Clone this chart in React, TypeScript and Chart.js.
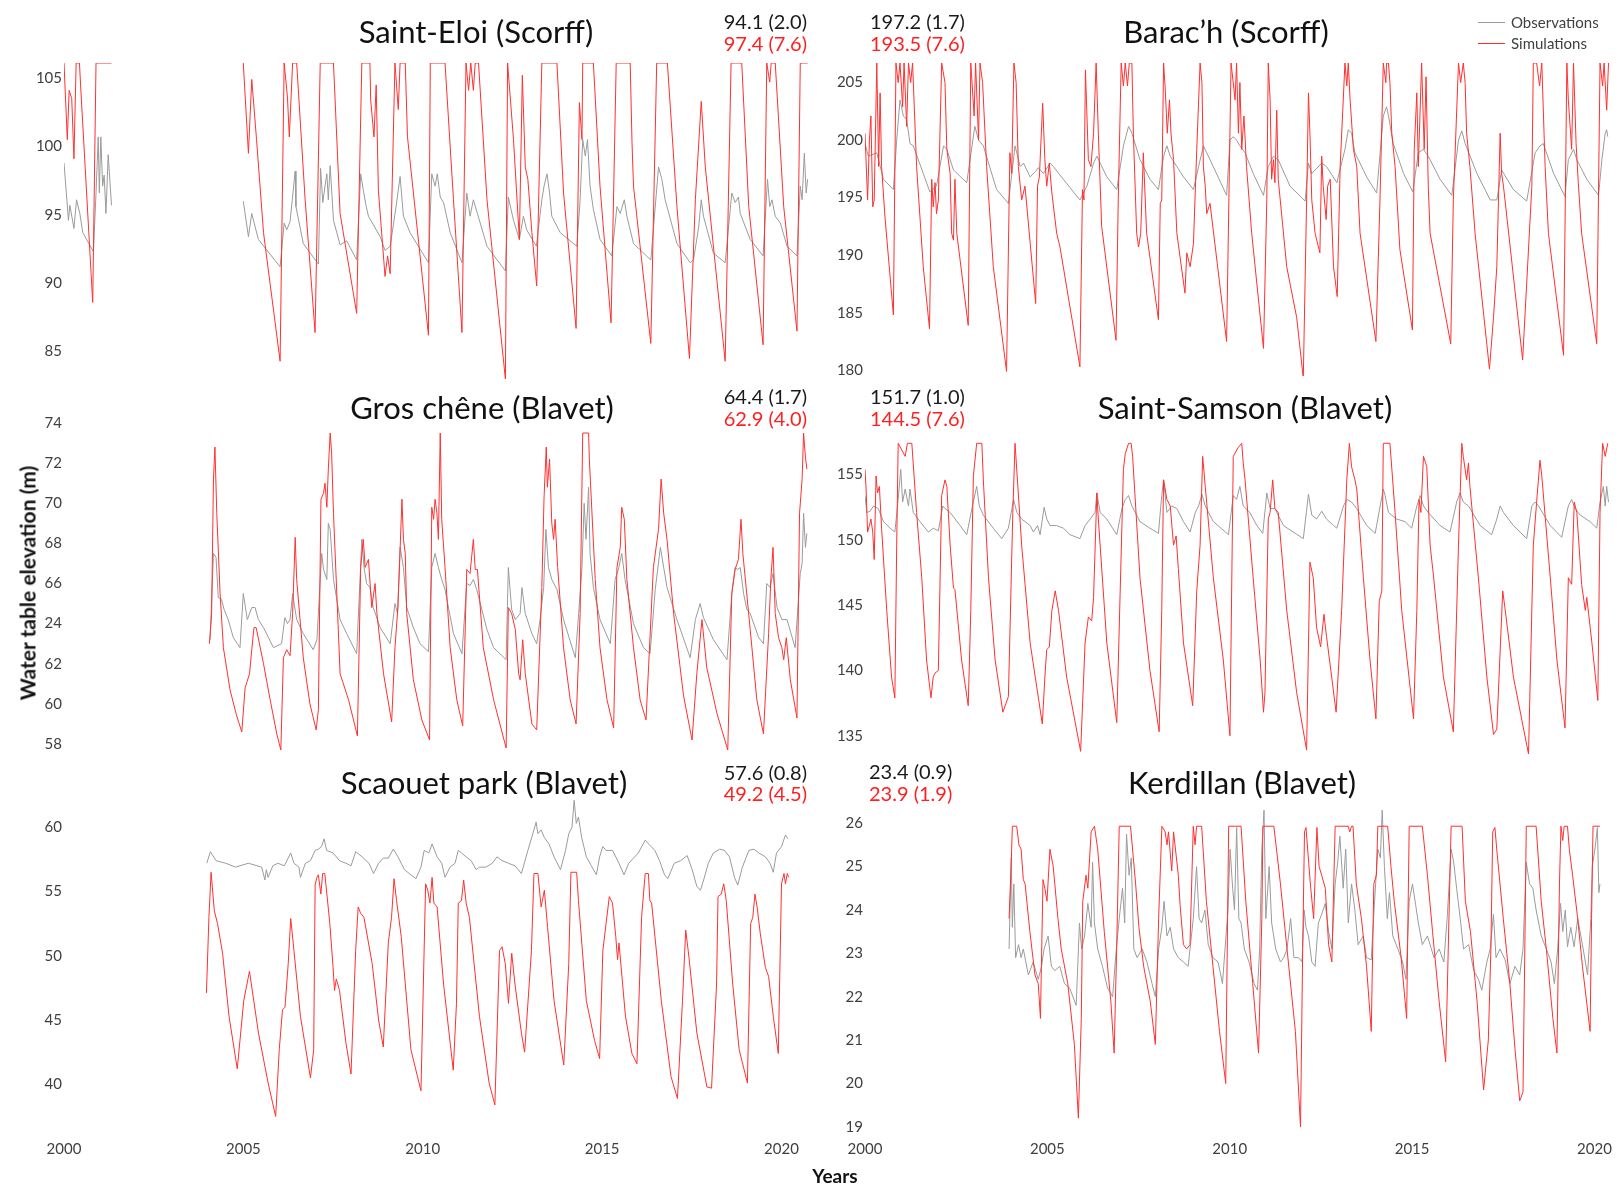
import React, { useEffect, useRef } from "react";
import { Chart, registerables } from "chart.js";

Chart.register(...registerables);

type Pt = [number, number];

const FONT = "Lato, 'Open Sans', 'DejaVu Sans', sans-serif";
const OBS_COLOR = "#9b9b9b";
const SIM_COLOR = "#ff3030";
const TICK_COLOR = "#3f3f3f";

const yearTicks = [2000, 2005, 2010, 2015, 2020];
const X_MIN = 2000;
const X_MAX = 2020.4;

// ---------- Saint-Eloi (Scorff) ----------
const saintEloiSimEarly: Pt[] = [[2000.0,106.1],[2000.09,100.5],[2000.14,104.1],[2000.21,103.5],[2000.27,99.1],[2000.33,106.1],[2000.42,106.1],[2000.45,104.5],[2000.78,88.6],[2000.87,106.1],[2001.29,106.1]];
const saintEloiObsEarly: Pt[] = [[2000.0,98.8],[2000.12,94.6],[2000.16,95.7],[2000.27,94.0],[2000.34,96.1],[2000.43,95.1],[2000.51,93.7],[2000.8,92.3],[2000.87,96.6],[2000.93,100.7],[2000.96,96.6],[2001.0,100.7],[2001.05,97.1],[2001.09,97.9],[2001.14,95.1],[2001.2,99.4],[2001.29,95.7]];
const saintEloiSim: Pt[] = [[2004.87,106.1],[2005.01,99.5],[2005.1,104.9],[2005.23,100.5],[2005.42,93.7],[2005.87,84.3],[2005.98,106.1],[2006.07,103.6],[2006.12,100.7],[2006.21,106.1],[2006.32,106.1],[2006.55,96.1],[2006.82,86.4],[2006.96,106.1],[2007.32,106.1],[2007.5,95.1],[2007.95,87.8],[2008.09,106.1],[2008.31,106.1],[2008.33,103.4],[2008.42,100.7],[2008.48,104.5],[2008.54,96.8],[2008.72,90.5],[2008.79,92.0],[2008.86,90.7],[2008.99,106.1],[2009.08,102.7],[2009.13,106.1],[2009.27,106.1],[2009.33,100.7],[2009.9,86.2],[2009.95,106.1],[2010.35,106.1],[2010.58,96.1],[2010.81,86.4],[2010.92,106.1],[2010.99,104.1],[2011.05,106.1],[2011.12,104.1],[2011.17,106.1],[2011.26,106.1],[2011.49,96.1],[2011.99,83.0],[2012.05,106.1],[2012.21,100.5],[2012.37,93.2],[2012.45,105.2],[2012.53,98.5],[2012.6,97.6],[2012.71,93.7],[2012.84,89.8],[2012.98,106.1],[2013.39,106.1],[2013.57,96.6],[2013.91,86.7],[2014.0,103.2],[2014.07,100.5],[2014.09,106.1],[2014.38,106.1],[2014.56,97.1],[2014.86,87.1],[2015.0,106.1],[2015.38,106.1],[2015.43,100.2],[2015.47,97.1],[2015.94,85.6],[2016.1,106.1],[2016.39,106.1],[2016.65,95.6],[2016.99,84.5],[2017.15,96.1],[2017.31,103.3],[2017.42,98.5],[2017.96,84.3],[2018.12,106.1],[2018.41,106.1],[2018.6,95.6],[2018.99,85.5],[2019.09,106.1],[2019.17,104.7],[2019.21,106.1],[2019.32,106.1],[2019.55,95.6],[2019.91,86.5],[2020.0,106.1],[2020.2,106.1]];
const saintEloiObs: Pt[] = [[2004.87,96.0],[2005.01,93.4],[2005.1,95.1],[2005.28,93.2],[2005.87,91.2],[2005.98,94.4],[2006.05,93.9],[2006.14,94.5],[2006.28,98.2],[2006.3,95.6],[2006.5,92.9],[2006.91,91.4],[2006.97,98.4],[2007.03,95.9],[2007.09,97.1],[2007.14,98.0],[2007.18,96.1],[2007.23,98.6],[2007.32,94.6],[2007.5,92.8],[2007.68,93.1],[2007.95,91.7],[2008.06,98.0],[2008.13,96.8],[2008.21,95.6],[2008.27,94.9],[2008.59,93.4],[2008.72,92.4],[2008.86,92.7],[2009.02,95.6],[2009.13,97.8],[2009.22,94.9],[2009.4,93.7],[2009.9,91.5],[2009.99,98.0],[2010.08,97.1],[2010.14,98.0],[2010.22,96.3],[2010.31,95.9],[2010.49,93.7],[2010.81,91.5],[2010.94,96.6],[2011.03,94.9],[2011.12,96.1],[2011.23,95.1],[2011.49,92.7],[2011.99,90.9],[2012.07,96.3],[2012.21,94.6],[2012.37,93.2],[2012.48,94.9],[2012.57,93.9],[2012.83,92.7],[2012.98,96.1],[2013.04,97.1],[2013.12,98.0],[2013.19,96.6],[2013.25,94.9],[2013.48,93.7],[2013.93,92.7],[2014.02,96.1],[2014.09,100.5],[2014.16,99.3],[2014.22,100.5],[2014.29,97.1],[2014.38,95.4],[2014.56,93.2],[2014.88,92.0],[2015.02,95.6],[2015.11,95.1],[2015.22,96.1],[2015.29,94.9],[2015.47,92.9],[2015.94,91.7],[2016.15,98.5],[2016.24,97.6],[2016.33,96.1],[2016.65,92.9],[2017.01,91.5],[2017.1,91.7],[2017.24,94.1],[2017.31,96.1],[2017.37,94.9],[2017.64,92.2],[2017.96,91.5],[2018.14,96.6],[2018.23,95.9],[2018.32,96.3],[2018.37,95.1],[2018.64,93.2],[2018.99,92.0],[2019.11,97.6],[2019.17,95.6],[2019.23,96.1],[2019.32,94.9],[2019.46,94.4],[2019.64,92.7],[2019.91,92.0],[2020.0,97.1],[2020.05,96.1],[2020.11,99.5],[2020.16,96.6],[2020.2,97.6]];

// ---------- Barac'h (Scorff) ----------
const baracHSim: Pt[] = [[2000.0,200.6],[2000.07,194.8],[2000.12,200.0],[2000.16,202.1],[2000.21,194.2],[2000.25,194.8],[2000.32,206.7],[2000.37,197.7],[2000.41,204.1],[2000.45,197.7],[2000.54,193.4],[2000.77,184.8],[2000.84,206.7],[2000.9,205.0],[2000.95,206.7],[2001.02,202.9],[2001.06,206.7],[2001.13,201.2],[2001.18,206.7],[2001.24,205.0],[2001.29,206.7],[2001.4,197.7],[2001.58,189.0],[2001.75,183.6],[2001.81,196.6],[2001.85,194.2],[2001.9,196.3],[2001.94,193.6],[2001.99,194.8],[2002.08,206.7],[2002.17,205.0],[2002.22,199.2],[2002.31,197.1],[2002.35,191.9],[2002.4,191.3],[2002.44,196.6],[2002.49,191.9],[2002.8,183.9],[2002.87,206.7],[2002.96,202.1],[2003.0,206.7],[2003.08,200.0],[2003.12,206.7],[2003.19,205.0],[2003.3,197.7],[2003.48,189.0],[2003.84,179.9],[2003.93,198.9],[2003.98,197.1],[2004.04,206.7],[2004.1,205.0],[2004.16,197.7],[2004.25,194.8],[2004.34,196.0],[2004.63,185.8],[2004.68,196.0],[2004.73,196.8],[2004.82,203.2],[2004.88,198.3],[2004.93,196.0],[2005.0,198.0],[2005.07,195.4],[2005.2,191.9],[2005.29,190.7],[2005.83,180.3],[2005.9,195.7],[2005.94,194.8],[2005.98,206.1],[2006.06,198.3],[2006.13,197.7],[2006.2,200.6],[2006.27,206.7],[2006.33,200.6],[2006.42,192.5],[2006.81,182.6],[2006.87,194.8],[2006.95,206.7],[2007.01,204.7],[2007.06,206.7],[2007.12,204.7],[2007.17,206.7],[2007.24,206.7],[2007.28,200.6],[2007.37,191.9],[2007.42,190.7],[2007.48,191.9],[2007.55,198.9],[2007.64,191.9],[2007.96,184.4],[2008.01,194.5],[2008.05,194.8],[2008.1,206.7],[2008.14,204.7],[2008.2,200.6],[2008.26,203.5],[2008.3,200.6],[2008.37,198.3],[2008.46,191.9],[2008.68,186.7],[2008.73,190.2],[2008.82,189.0],[2008.91,191.0],[2009.0,199.2],[2009.09,206.7],[2009.14,205.0],[2009.18,197.7],[2009.23,196.0],[2009.27,193.6],[2009.36,194.5],[2009.81,182.5],[2009.93,206.7],[2010.04,203.5],[2010.08,206.7],[2010.13,200.6],[2010.17,205.0],[2010.22,199.2],[2010.28,202.1],[2010.35,197.7],[2010.49,191.9],[2010.81,181.9],[2010.9,194.8],[2010.94,206.7],[2010.99,203.5],[2011.03,196.6],[2011.08,198.3],[2011.12,196.3],[2011.17,202.6],[2011.21,196.6],[2011.44,189.0],[2011.71,184.6],[2011.89,179.3],[2011.98,194.8],[2012.03,204.1],[2012.07,200.6],[2012.12,194.8],[2012.21,191.9],[2012.34,190.2],[2012.39,198.6],[2012.43,196.0],[2012.51,193.1],[2012.55,196.0],[2012.62,196.6],[2012.71,189.0],[2012.81,186.4],[2012.89,197.7],[2013.02,206.7],[2013.07,204.7],[2013.11,206.7],[2013.16,203.5],[2013.25,199.2],[2013.34,197.7],[2013.43,191.9],[2013.86,182.5],[2013.97,194.8],[2014.06,206.7],[2014.13,205.0],[2014.15,206.7],[2014.2,206.7],[2014.24,205.0],[2014.29,200.6],[2014.38,197.7],[2014.51,190.5],[2014.85,183.5],[2014.9,199.2],[2014.97,204.1],[2015.01,197.7],[2015.1,206.7],[2015.17,199.2],[2015.22,205.5],[2015.28,196.0],[2015.33,191.9],[2015.89,182.3],[2015.96,194.8],[2016.1,206.7],[2016.16,205.0],[2016.23,206.7],[2016.28,205.0],[2016.32,200.6],[2016.41,197.7],[2016.55,191.9],[2016.94,180.1],[2017.05,184.6],[2017.14,189.0],[2017.23,200.6],[2017.27,197.1],[2017.32,196.0],[2017.84,180.9],[2018.09,196.0],[2018.13,206.7],[2018.22,206.7],[2018.3,204.7],[2018.36,206.7],[2018.45,197.7],[2018.54,191.9],[2018.95,181.3],[2019.04,206.7],[2019.08,203.5],[2019.17,199.2],[2019.22,206.7],[2019.29,199.7],[2019.35,196.3],[2019.44,191.9],[2019.85,182.3],[2019.94,206.7],[2020.01,204.7],[2020.05,206.7],[2020.12,202.6],[2020.17,206.7]];
const baracHObs: Pt[] = [[2000.0,199.7],[2000.09,198.6],[2000.32,198.9],[2000.5,196.6],[2000.77,195.7],[2000.86,200.0],[2000.95,203.5],[2001.04,202.1],[2001.13,201.8],[2001.22,199.7],[2001.31,199.5],[2001.58,197.1],[2001.76,195.5],[2001.94,196.0],[2002.13,199.5],[2002.22,199.2],[2002.4,197.4],[2002.76,196.3],[2002.98,201.2],[2003.08,200.0],[2003.21,199.5],[2003.57,195.7],[2003.89,194.5],[2004.07,199.5],[2004.21,197.7],[2004.3,198.0],[2004.48,196.8],[2004.63,197.3],[2004.7,197.6],[2004.84,197.1],[2005.02,198.0],[2005.11,197.7],[2005.38,196.6],[2005.83,194.8],[2006.02,196.0],[2006.2,198.0],[2006.29,198.6],[2006.56,196.8],[2006.83,195.7],[2007.01,199.5],[2007.15,201.2],[2007.24,200.6],[2007.46,198.3],[2007.73,196.6],[2007.96,195.7],[2008.1,198.6],[2008.19,199.5],[2008.28,198.6],[2008.46,197.7],[2008.64,196.8],[2008.91,195.7],[2009.05,197.7],[2009.18,199.5],[2009.36,198.3],[2009.81,195.2],[2009.9,200.0],[2009.99,200.3],[2010.08,200.0],[2010.17,199.5],[2010.31,198.9],[2010.53,197.1],[2010.81,195.2],[2010.94,197.7],[2011.08,198.6],[2011.21,198.3],[2011.53,196.0],[2011.94,194.7],[2012.03,198.0],[2012.12,197.1],[2012.39,198.0],[2012.52,197.7],[2012.8,196.3],[2013.02,199.2],[2013.11,200.9],[2013.2,200.6],[2013.29,198.9],[2013.61,196.8],[2013.88,195.4],[2014.06,202.1],[2014.15,202.9],[2014.2,202.1],[2014.33,199.7],[2014.61,197.1],[2014.86,195.5],[2015.01,198.9],[2015.15,199.2],[2015.28,198.6],[2015.6,196.6],[2015.92,195.2],[2016.1,200.0],[2016.19,200.8],[2016.28,199.7],[2016.6,197.1],[2016.96,194.8],[2017.14,194.8],[2017.27,197.4],[2017.59,195.7],[2017.95,194.7],[2018.18,198.9],[2018.31,199.5],[2018.4,199.7],[2018.68,197.1],[2018.99,195.1],[2019.08,198.3],[2019.22,199.2],[2019.31,198.3],[2019.58,196.6],[2019.9,195.2],[2019.99,198.3],[2020.08,200.6],[2020.12,200.9],[2020.15,200.3]];

// ---------- Gros chêne (Blavet) ----------
const grosCheneSim: Pt[] = [[2003.95,63.0],[2004.01,64.5],[2004.06,71.2],[2004.1,72.8],[2004.15,69.5],[2004.24,65.5],[2004.33,62.8],[2004.51,60.7],[2004.69,59.4],[2004.83,58.6],[2004.92,60.8],[2005.04,61.5],[2005.1,62.7],[2005.16,63.8],[2005.22,63.8],[2005.42,62.0],[2005.6,60.2],[2005.78,58.5],[2005.89,57.7],[2005.96,62.3],[2006.05,62.7],[2006.14,62.4],[2006.21,64.5],[2006.28,68.3],[2006.32,66.2],[2006.5,62.3],[2006.68,60.0],[2006.85,58.7],[2006.91,59.7],[2006.98,70.2],[2007.05,70.5],[2007.09,71.0],[2007.14,69.8],[2007.18,71.7],[2007.23,73.5],[2007.27,72.5],[2007.32,69.5],[2007.5,61.5],[2007.73,60.2],[2007.97,58.4],[2008.06,66.8],[2008.13,68.2],[2008.18,66.8],[2008.27,67.2],[2008.36,64.8],[2008.45,66.0],[2008.5,64.5],[2008.68,61.5],[2008.9,59.1],[2008.99,62.8],[2009.07,64.8],[2009.13,67.7],[2009.18,70.2],[2009.22,68.2],[2009.27,67.5],[2009.31,64.5],[2009.49,61.2],[2009.72,59.2],[2009.93,58.2],[2009.99,69.8],[2010.04,69.2],[2010.08,70.2],[2010.13,69.5],[2010.17,68.2],[2010.22,73.5],[2010.26,69.2],[2010.35,66.8],[2010.49,62.8],[2010.67,60.2],[2010.83,58.9],[2010.94,66.7],[2011.03,66.5],[2011.12,68.2],[2011.17,66.7],[2011.23,66.7],[2011.39,62.8],[2011.67,60.2],[2012.01,57.8],[2012.07,64.8],[2012.16,64.5],[2012.26,63.7],[2012.35,61.5],[2012.39,61.2],[2012.46,63.2],[2012.53,61.5],[2012.71,59.0],[2012.84,58.7],[2012.98,65.8],[2013.04,70.3],[2013.1,72.8],[2013.13,70.8],[2013.19,72.2],[2013.25,69.0],[2013.3,68.2],[2013.34,69.2],[2013.41,66.8],[2013.57,62.8],[2013.75,60.2],[2013.91,59.0],[2014.02,64.5],[2014.09,73.5],[2014.25,73.5],[2014.27,72.2],[2014.43,66.2],[2014.56,62.8],[2014.75,60.2],[2014.93,58.8],[2015.02,66.8],[2015.11,67.8],[2015.15,69.8],[2015.22,69.2],[2015.29,66.2],[2015.47,62.8],[2015.65,60.2],[2015.81,59.2],[2016.01,66.8],[2016.15,68.7],[2016.22,71.2],[2016.29,69.5],[2016.38,68.2],[2016.56,64.5],[2016.83,60.4],[2017.06,58.2],[2017.19,61.5],[2017.33,64.2],[2017.46,61.8],[2017.74,59.5],[2018.03,57.7],[2018.14,65.5],[2018.23,66.7],[2018.32,67.2],[2018.39,69.2],[2018.44,67.5],[2018.64,63.7],[2018.82,60.2],[2019.0,58.5],[2019.14,63.5],[2019.2,66.2],[2019.26,67.8],[2019.32,64.5],[2019.41,63.3],[2019.5,62.8],[2019.55,62.2],[2019.62,63.3],[2019.73,61.2],[2019.91,59.3],[2019.98,69.5],[2020.05,71.2],[2020.09,73.5],[2020.14,72.3],[2020.18,71.7]];
const grosCheneObs: Pt[] = [[2003.97,63.2],[2004.06,67.5],[2004.13,67.3],[2004.19,65.3],[2004.28,65.2],[2004.35,64.7],[2004.46,64.2],[2004.6,63.3],[2004.78,62.8],[2004.87,65.5],[2004.98,64.2],[2005.1,64.8],[2005.19,64.8],[2005.28,64.2],[2005.42,63.8],[2005.69,62.8],[2005.91,63.0],[2006.0,64.3],[2006.07,64.0],[2006.14,64.2],[2006.21,65.5],[2006.32,64.2],[2006.5,63.5],[2006.77,62.7],[2006.87,63.2],[2007.0,67.5],[2007.05,66.7],[2007.14,66.2],[2007.18,69.0],[2007.23,68.7],[2007.32,66.2],[2007.5,64.2],[2007.68,63.5],[2007.95,62.5],[2008.09,68.2],[2008.15,66.8],[2008.22,66.0],[2008.31,65.8],[2008.4,64.8],[2008.59,63.8],[2008.86,63.0],[2008.99,65.0],[2009.06,64.5],[2009.13,67.8],[2009.22,66.8],[2009.31,64.8],[2009.49,63.8],[2009.67,63.0],[2009.9,62.6],[2009.99,66.8],[2010.08,67.5],[2010.17,66.8],[2010.26,66.2],[2010.35,65.7],[2010.58,63.5],[2010.81,62.5],[2010.94,66.0],[2011.03,65.9],[2011.12,66.2],[2011.21,65.7],[2011.49,63.7],[2011.67,62.8],[2012.01,62.2],[2012.07,66.8],[2012.16,64.7],[2012.26,64.2],[2012.39,64.5],[2012.44,65.8],[2012.53,64.5],[2012.71,63.5],[2012.84,63.0],[2012.93,64.2],[2013.03,65.8],[2013.09,68.7],[2013.16,66.8],[2013.25,66.2],[2013.39,65.7],[2013.57,64.2],[2013.89,62.3],[2013.98,64.5],[2014.07,66.8],[2014.13,70.0],[2014.18,68.2],[2014.25,70.8],[2014.29,67.5],[2014.38,65.8],[2014.56,64.2],[2014.84,63.0],[2014.97,66.2],[2015.06,66.7],[2015.15,67.5],[2015.24,66.2],[2015.47,64.0],[2015.74,62.8],[2015.92,62.5],[2016.06,65.7],[2016.2,67.8],[2016.29,66.8],[2016.38,65.8],[2016.65,64.2],[2017.01,62.3],[2017.15,64.2],[2017.28,65.0],[2017.37,64.3],[2017.64,63.2],[2018.01,62.2],[2018.14,65.5],[2018.23,66.8],[2018.3,66.7],[2018.37,66.8],[2018.46,65.5],[2018.55,64.7],[2018.64,64.5],[2018.87,63.3],[2019.0,63.0],[2019.09,66.0],[2019.18,65.8],[2019.26,66.5],[2019.37,64.8],[2019.5,64.2],[2019.64,64.2],[2019.86,62.8],[2020.0,66.5],[2020.05,67.0],[2020.09,69.5],[2020.14,67.8],[2020.18,68.5]];

// ---------- Saint-Samson (Blavet) ----------
const saintSamsonSim: Pt[] = [[2000.0,155.4],[2000.03,153.9],[2000.07,150.6],[2000.12,151.1],[2000.16,151.6],[2000.21,150.6],[2000.25,148.5],[2000.3,154.9],[2000.34,153.6],[2000.39,154.1],[2000.45,150.9],[2000.59,144.6],[2000.72,139.5],[2000.81,137.9],[2000.86,149.6],[2000.9,157.4],[2001.09,156.4],[2001.15,157.4],[2001.27,157.4],[2001.4,152.1],[2001.54,147.1],[2001.67,140.8],[2001.79,137.9],[2001.85,139.5],[2001.9,139.8],[2001.99,140.0],[2002.08,153.4],[2002.17,154.6],[2002.22,154.1],[2002.31,149.6],[2002.4,146.3],[2002.44,146.2],[2002.62,140.8],[2002.8,137.3],[2002.87,144.6],[2002.94,154.9],[2003.03,157.4],[2003.17,157.4],[2003.21,154.6],[2003.35,147.1],[2003.53,140.8],[2003.74,136.8],[2003.89,138.0],[2004.01,152.1],[2004.07,157.4],[2004.25,149.6],[2004.48,142.1],[2004.81,135.9],[2004.88,139.5],[2004.93,141.6],[2005.0,141.8],[2005.07,144.6],[2005.16,146.1],[2005.25,144.6],[2005.47,139.5],[2005.85,133.8],[2005.97,142.1],[2006.06,144.1],[2006.15,143.8],[2006.2,145.6],[2006.29,153.6],[2006.33,151.6],[2006.56,142.1],[2006.83,136.0],[2006.92,145.8],[2007.01,155.4],[2007.06,156.6],[2007.15,157.4],[2007.22,157.4],[2007.26,156.4],[2007.46,147.1],[2007.73,140.0],[2007.98,135.3],[2008.05,144.6],[2008.1,154.6],[2008.19,153.1],[2008.28,152.6],[2008.37,149.6],[2008.44,150.3],[2008.5,147.8],[2008.64,142.1],[2008.89,137.3],[2009.0,146.1],[2009.09,149.6],[2009.16,156.4],[2009.23,154.1],[2009.45,147.1],[2009.72,140.8],[2009.9,135.0],[2009.99,156.4],[2010.13,157.1],[2010.22,157.4],[2010.26,155.9],[2010.31,154.6],[2010.53,147.1],[2010.72,140.8],[2010.81,136.8],[2010.85,138.3],[2010.94,151.6],[2010.99,152.1],[2011.06,154.6],[2011.12,152.4],[2011.21,152.1],[2011.44,144.6],[2011.71,138.3],[2011.98,133.9],[2012.07,148.3],[2012.16,147.1],[2012.25,143.3],[2012.36,141.8],[2012.45,144.3],[2012.52,142.6],[2012.66,139.5],[2012.78,136.8],[2012.93,144.6],[2013.07,154.6],[2013.14,157.4],[2013.2,155.6],[2013.29,154.6],[2013.34,153.9],[2013.52,147.1],[2013.7,140.8],[2013.86,136.3],[2013.95,145.3],[2014.02,146.1],[2014.06,157.4],[2014.24,157.4],[2014.38,152.1],[2014.56,144.6],[2014.88,136.3],[2014.97,144.6],[2015.03,153.1],[2015.08,152.1],[2015.15,156.4],[2015.24,155.6],[2015.33,149.6],[2015.42,147.3],[2015.69,139.5],[2015.96,135.3],[2016.1,149.6],[2016.19,157.4],[2016.23,156.4],[2016.32,154.6],[2016.37,155.9],[2016.41,154.1],[2016.64,147.1],[2016.87,139.5],[2017.05,135.1],[2017.14,135.5],[2017.3,146.1],[2017.36,144.8],[2017.59,139.5],[2018.0,133.6],[2018.13,149.6],[2018.22,152.9],[2018.31,156.1],[2018.36,154.9],[2018.59,147.1],[2018.77,140.8],[2018.99,135.6],[2019.08,147.1],[2019.17,146.6],[2019.24,152.9],[2019.31,152.1],[2019.44,146.6],[2019.54,144.6],[2019.58,145.6],[2019.72,142.1],[2019.88,137.7],[2019.94,152.1],[2020.01,157.4],[2020.08,156.4],[2020.15,157.4]];
const saintSamsonObs: Pt[] = [[2000.0,153.4],[2000.05,152.1],[2000.14,152.2],[2000.23,152.6],[2000.36,152.4],[2000.5,151.4],[2000.68,150.9],[2000.81,150.6],[2000.9,153.1],[2000.97,155.4],[2001.02,152.9],[2001.09,153.9],[2001.18,152.6],[2001.22,153.9],[2001.31,152.1],[2001.49,151.4],[2001.72,150.6],[2001.85,150.9],[2001.99,150.7],[2002.11,152.6],[2002.17,152.4],[2002.31,152.1],[2002.58,151.1],[2002.76,150.4],[2002.9,152.4],[2003.03,154.1],[2003.1,152.6],[2003.21,151.9],[2003.48,150.9],[2003.71,150.1],[2003.89,150.9],[2004.03,153.1],[2004.12,152.1],[2004.25,151.6],[2004.48,151.1],[2004.57,150.6],[2004.68,151.1],[2004.75,150.4],[2004.86,152.5],[2004.93,151.6],[2005.02,151.1],[2005.2,151.1],[2005.38,150.9],[2005.56,150.4],[2005.83,150.1],[2005.97,151.1],[2006.11,151.6],[2006.24,152.1],[2006.29,153.6],[2006.38,152.1],[2006.56,151.6],[2006.83,150.4],[2006.97,152.4],[2007.06,153.1],[2007.15,153.4],[2007.24,152.6],[2007.46,151.4],[2007.73,150.9],[2007.96,150.5],[2008.05,153.4],[2008.1,154.6],[2008.19,152.1],[2008.32,152.6],[2008.46,152.4],[2008.64,151.4],[2008.82,150.6],[2008.96,152.1],[2009.05,152.6],[2009.14,153.5],[2009.23,152.6],[2009.45,151.4],[2009.86,150.4],[2009.99,153.4],[2010.08,153.1],[2010.17,154.1],[2010.26,152.6],[2010.44,152.1],[2010.63,151.1],[2010.79,150.5],[2010.9,153.6],[2010.99,152.4],[2011.12,152.4],[2011.35,151.1],[2011.89,150.1],[2012.03,153.5],[2012.12,151.9],[2012.25,151.6],[2012.39,152.2],[2012.52,151.6],[2012.71,151.1],[2012.8,150.9],[2012.98,152.6],[2013.07,153.1],[2013.2,152.9],[2013.34,152.4],[2013.61,151.1],[2013.84,150.5],[2014.06,153.9],[2014.11,153.4],[2014.2,152.1],[2014.42,151.6],[2014.65,151.4],[2014.83,150.9],[2014.97,152.6],[2015.06,153.4],[2015.15,152.6],[2015.28,152.1],[2015.6,151.1],[2015.87,150.6],[2016.05,152.9],[2016.14,153.6],[2016.23,152.9],[2016.37,152.6],[2016.69,151.1],[2017.0,150.4],[2017.14,151.6],[2017.23,152.6],[2017.32,152.1],[2017.59,151.1],[2017.95,150.1],[2018.09,152.6],[2018.18,152.9],[2018.27,152.6],[2018.59,151.1],[2018.9,150.2],[2019.08,152.6],[2019.17,153.1],[2019.26,152.4],[2019.4,151.9],[2019.67,151.4],[2019.85,150.9],[2019.94,152.9],[2020.03,154.1],[2020.08,152.6],[2020.12,154.1],[2020.17,152.9]];

// ---------- Scaouet park (Blavet) ----------
const scaouetSim: Pt[] = [[2003.97,47.1],[2004.04,53.0],[2004.1,56.5],[2004.19,53.5],[2004.28,52.5],[2004.42,50.2],[2004.6,45.3],[2004.83,41.2],[2005.01,46.5],[2005.17,48.8],[2005.42,44.0],[2005.69,40.1],[2005.9,37.5],[2006.0,42.7],[2006.09,45.8],[2006.16,46.0],[2006.25,49.4],[2006.32,52.9],[2006.41,50.4],[2006.59,45.3],[2006.87,40.5],[2006.96,42.7],[2007.0,55.5],[2007.05,56.1],[2007.09,56.3],[2007.16,54.8],[2007.21,56.4],[2007.27,56.4],[2007.41,52.5],[2007.5,49.1],[2007.54,47.3],[2007.59,48.2],[2007.68,47.3],[2007.86,43.2],[2008.0,40.8],[2008.13,50.4],[2008.2,53.8],[2008.27,53.3],[2008.36,53.0],[2008.59,49.4],[2008.77,45.0],[2008.9,42.9],[2009.04,51.0],[2009.13,53.0],[2009.2,56.0],[2009.27,54.3],[2009.4,51.5],[2009.67,42.7],[2009.95,39.5],[2010.08,55.6],[2010.14,55.1],[2010.2,54.1],[2010.26,56.1],[2010.31,54.1],[2010.4,53.8],[2010.58,47.8],[2010.85,41.1],[2010.94,46.3],[2010.99,54.1],[2011.08,54.3],[2011.14,55.9],[2011.21,54.1],[2011.3,53.0],[2011.58,45.3],[2011.85,40.1],[2012.01,38.4],[2012.14,50.4],[2012.21,50.7],[2012.3,49.4],[2012.39,46.3],[2012.48,50.2],[2012.57,47.8],[2012.75,44.0],[2012.84,42.5],[2013.03,50.4],[2013.1,56.4],[2013.21,56.4],[2013.3,53.8],[2013.39,55.1],[2013.48,52.2],[2013.66,46.5],[2013.93,41.5],[2014.07,49.4],[2014.13,56.5],[2014.29,56.5],[2014.34,54.3],[2014.56,46.5],[2014.79,43.4],[2014.93,42.0],[2015.02,50.4],[2015.11,52.5],[2015.2,54.6],[2015.29,54.1],[2015.38,51.5],[2015.43,49.7],[2015.47,51.0],[2015.65,45.3],[2015.83,42.4],[2015.97,41.6],[2016.1,53.0],[2016.2,56.4],[2016.29,56.4],[2016.33,54.3],[2016.38,54.1],[2016.65,46.5],[2016.92,40.6],[2017.1,38.9],[2017.24,46.5],[2017.33,52.0],[2017.42,49.9],[2017.64,44.0],[2017.92,39.8],[2018.05,39.7],[2018.19,47.8],[2018.23,54.6],[2018.32,54.8],[2018.39,55.6],[2018.46,54.3],[2018.64,47.8],[2018.82,42.7],[2019.05,40.1],[2019.14,52.5],[2019.2,53.0],[2019.26,54.8],[2019.32,53.8],[2019.41,51.7],[2019.55,49.1],[2019.64,48.4],[2019.77,45.3],[2019.91,42.4],[2020.0,55.6],[2020.07,56.4],[2020.11,55.6],[2020.16,56.4],[2020.2,56.1]];
const scaouetObs: Pt[] = [[2003.98,57.2],[2004.08,58.1],[2004.24,57.4],[2004.51,57.2],[2004.78,56.9],[2005.14,57.2],[2005.51,56.9],[2005.6,55.9],[2005.64,56.7],[2005.69,56.1],[2005.82,57.0],[2005.96,57.2],[2006.14,57.0],[2006.32,58.0],[2006.41,57.2],[2006.55,56.9],[2006.59,56.1],[2006.73,57.2],[2006.87,57.4],[2007.0,58.2],[2007.09,58.3],[2007.18,58.5],[2007.25,59.1],[2007.32,58.2],[2007.5,58.0],[2007.68,57.4],[2007.86,57.2],[2008.0,57.0],[2008.13,58.1],[2008.31,57.7],[2008.5,57.2],[2008.63,56.4],[2008.77,57.2],[2008.9,57.6],[2009.04,57.6],[2009.18,58.3],[2009.31,57.7],[2009.49,56.7],[2009.67,56.3],[2009.81,56.0],[2009.95,56.9],[2010.04,58.2],[2010.17,58.0],[2010.26,58.7],[2010.4,57.7],[2010.53,57.2],[2010.62,56.1],[2010.76,56.9],[2010.9,57.2],[2010.99,58.2],[2011.08,58.0],[2011.21,57.7],[2011.35,57.4],[2011.49,56.7],[2011.58,56.9],[2011.76,56.9],[2011.94,57.2],[2012.07,57.7],[2012.21,57.4],[2012.39,57.2],[2012.57,57.0],[2012.75,56.4],[2012.93,58.2],[2013.07,59.5],[2013.16,60.4],[2013.21,59.5],[2013.3,59.8],[2013.39,59.2],[2013.52,58.7],[2013.66,57.7],[2013.84,56.7],[2013.98,58.2],[2014.07,59.5],[2014.16,60.0],[2014.22,62.1],[2014.28,60.3],[2014.34,60.8],[2014.43,59.2],[2014.56,57.7],[2014.7,57.0],[2014.84,56.3],[2014.93,57.7],[2015.02,58.5],[2015.11,58.2],[2015.29,58.2],[2015.47,57.2],[2015.61,56.3],[2015.74,57.2],[2016.01,58.0],[2016.2,59.0],[2016.33,58.6],[2016.47,58.2],[2016.6,57.4],[2016.74,56.3],[2016.83,56.0],[2017.01,57.2],[2017.19,57.4],[2017.37,57.8],[2017.51,56.7],[2017.64,55.4],[2017.74,55.1],[2017.83,55.9],[2017.96,57.2],[2018.1,58.0],[2018.28,58.3],[2018.41,58.2],[2018.55,57.7],[2018.69,56.1],[2018.78,55.5],[2018.91,56.9],[2019.09,58.2],[2019.23,58.3],[2019.37,58.0],[2019.55,57.7],[2019.68,57.2],[2019.77,56.5],[2019.86,58.0],[2020.0,58.5],[2020.11,59.4],[2020.18,59.1]];

// ---------- Kerdillan (Blavet) ----------
const kerdillanSim: Pt[] = [[2003.95,23.8],[2004.01,25.1],[2004.04,25.93],[2004.16,25.93],[2004.22,25.5],[2004.28,25.4],[2004.34,24.7],[2004.39,24.6],[2004.52,23.5],[2004.66,22.5],[2004.75,22.3],[2004.81,21.5],[2004.88,24.7],[2004.93,24.5],[2004.99,24.2],[2005.07,25.4],[2005.16,25.0],[2005.29,23.8],[2005.38,23.1],[2005.56,22.3],[2005.74,20.9],[2005.85,19.2],[2005.93,21.5],[2005.97,24.2],[2006.06,24.8],[2006.11,24.5],[2006.2,25.8],[2006.29,25.93],[2006.38,25.4],[2006.56,23.5],[2006.74,21.9],[2006.83,20.7],[2006.9,23.1],[2006.97,25.93],[2007.28,25.93],[2007.42,24.6],[2007.51,23.6],[2007.64,22.7],[2007.82,21.9],[2007.96,20.9],[2008.05,23.8],[2008.14,25.93],[2008.23,25.8],[2008.28,25.5],[2008.32,25.8],[2008.41,24.9],[2008.46,25.8],[2008.59,24.8],[2008.64,24.1],[2008.73,23.2],[2008.82,23.1],[2008.91,23.2],[2009.0,25.93],[2009.05,25.5],[2009.09,25.93],[2009.23,25.93],[2009.36,24.2],[2009.54,22.7],[2009.72,21.2],[2009.89,20.0],[2009.97,25.93],[2010.31,25.93],[2010.44,24.2],[2010.63,22.3],[2010.79,20.7],[2010.88,23.8],[2010.91,25.93],[2011.21,25.93],[2011.39,24.6],[2011.57,23.1],[2011.8,21.2],[2011.94,19.0],[2012.0,23.1],[2012.05,25.8],[2012.09,25.9],[2012.21,24.6],[2012.3,23.8],[2012.39,25.9],[2012.45,25.0],[2012.52,24.8],[2012.62,24.5],[2012.71,23.2],[2012.8,22.8],[2012.89,25.93],[2013.25,25.93],[2013.29,25.8],[2013.34,25.93],[2013.38,25.93],[2013.47,24.6],[2013.61,23.8],[2013.75,22.7],[2013.88,21.2],[2013.95,24.6],[2014.02,24.8],[2014.06,25.93],[2014.33,25.93],[2014.42,25.0],[2014.51,24.2],[2014.7,22.9],[2014.85,21.5],[2014.92,25.93],[2015.28,25.93],[2015.42,24.8],[2015.56,23.5],[2015.74,21.9],[2015.92,20.5],[2016.01,23.8],[2016.07,25.93],[2016.37,25.93],[2016.46,24.2],[2016.6,23.5],[2016.78,21.9],[2016.96,19.85],[2017.09,21.0],[2017.16,23.1],[2017.21,25.8],[2017.27,25.9],[2017.32,25.4],[2017.5,23.8],[2017.68,22.3],[2017.82,20.8],[2017.95,19.6],[2018.04,19.8],[2018.09,23.1],[2018.13,25.93],[2018.4,25.93],[2018.54,24.2],[2018.68,23.1],[2018.86,21.5],[2018.97,20.7],[2019.04,24.6],[2019.08,25.93],[2019.13,25.6],[2019.17,25.93],[2019.26,25.93],[2019.31,25.4],[2019.4,24.8],[2019.54,23.8],[2019.67,22.7],[2019.88,21.2],[2019.92,23.8],[2019.96,25.93],[2020.15,25.93]];
const kerdillanObs: Pt[] = [[2003.95,23.1],[2004.01,25.2],[2004.04,23.6],[2004.08,24.6],[2004.13,22.9],[2004.21,23.2],[2004.28,22.9],[2004.34,23.1],[2004.48,22.5],[2004.61,22.8],[2004.75,22.4],[2004.84,22.7],[2004.91,23.1],[2005.02,23.4],[2005.11,22.7],[2005.2,22.6],[2005.34,22.7],[2005.47,22.3],[2005.61,22.2],[2005.79,21.8],[2005.88,23.7],[2005.94,23.1],[2006.02,23.4],[2006.11,24.15],[2006.2,23.6],[2006.24,25.1],[2006.29,23.7],[2006.38,23.1],[2006.51,22.7],[2006.65,22.2],[2006.79,22.0],[2006.87,22.9],[2006.97,23.8],[2007.06,24.5],[2007.12,23.7],[2007.17,25.75],[2007.24,24.8],[2007.3,25.2],[2007.37,23.1],[2007.46,22.9],[2007.6,23.1],[2007.73,22.8],[2007.87,22.3],[2007.96,22.0],[2008.05,23.1],[2008.14,23.6],[2008.2,24.2],[2008.28,23.4],[2008.37,23.6],[2008.46,23.1],[2008.59,22.9],[2008.73,22.8],[2008.86,22.7],[2009.0,23.8],[2009.09,25.0],[2009.16,23.8],[2009.23,23.7],[2009.32,24.0],[2009.41,23.2],[2009.54,22.9],[2009.68,22.8],[2009.8,22.3],[2009.95,24.0],[2010.01,25.4],[2010.08,24.5],[2010.13,24.0],[2010.19,25.9],[2010.25,23.8],[2010.31,23.7],[2010.4,23.1],[2010.53,22.8],[2010.67,22.3],[2010.76,22.15],[2010.82,23.1],[2010.88,25.4],[2010.94,26.3],[2010.99,23.8],[2011.08,25.0],[2011.15,23.7],[2011.26,23.1],[2011.39,22.8],[2011.48,22.9],[2011.57,23.1],[2011.67,23.8],[2011.76,22.9],[2011.89,22.9],[2011.98,22.8],[2012.04,24.0],[2012.09,23.6],[2012.16,23.4],[2012.25,22.8],[2012.34,22.7],[2012.43,23.7],[2012.52,23.9],[2012.62,24.15],[2012.71,23.5],[2012.8,23.1],[2012.89,24.6],[2012.96,25.1],[2013.02,25.7],[2013.11,24.5],[2013.18,25.4],[2013.25,23.7],[2013.34,24.6],[2013.43,24.0],[2013.52,23.2],[2013.66,23.4],[2013.75,22.9],[2013.88,22.85],[2013.97,24.2],[2014.06,25.4],[2014.13,25.2],[2014.18,26.3],[2014.24,25.0],[2014.32,23.8],[2014.38,24.4],[2014.47,23.4],[2014.61,23.1],[2014.74,22.8],[2014.83,22.4],[2014.92,24.2],[2015.01,24.6],[2015.1,24.1],[2015.17,23.7],[2015.28,23.2],[2015.42,23.4],[2015.6,22.9],[2015.74,23.1],[2015.87,22.8],[2015.96,23.8],[2016.07,25.4],[2016.14,25.1],[2016.22,24.5],[2016.32,23.8],[2016.41,23.1],[2016.55,23.2],[2016.69,22.6],[2016.82,22.4],[2016.91,22.15],[2017.05,22.8],[2017.14,23.1],[2017.23,23.9],[2017.3,22.9],[2017.41,23.1],[2017.55,22.85],[2017.68,22.3],[2017.82,22.7],[2017.95,22.5],[2018.04,23.1],[2018.13,25.1],[2018.22,24.6],[2018.31,24.5],[2018.4,24.0],[2018.54,23.4],[2018.68,23.1],[2018.81,22.8],[2018.9,22.3],[2018.99,23.1],[2019.07,24.15],[2019.13,23.5],[2019.2,24.0],[2019.26,23.15],[2019.35,23.6],[2019.44,23.15],[2019.54,23.8],[2019.67,23.2],[2019.81,22.5],[2019.9,23.8],[2019.94,25.0],[2020.02,25.45],[2020.08,25.9],[2020.12,24.4],[2020.15,24.6]];

// ---------- axis ticks ----------
const saintEloiTicks = [85, 90, 95, 100, 105];
const baracHTicks = [180, 185, 190, 195, 200, 205];
const grosCheneTicks = [58, 60, 62, 64, 66, 68, 70, 72, 74];
const grosCheneTickLabels = ["58", "60", "62", "24", "66", "68", "70", "72", "74"];
const saintSamsonTicks = [135, 140, 145, 150, 155];
const scaouetTicks = [40, 45, 50, 55, 60];
const kerdillanTicks = [19, 20, 21, 22, 23, 24, 25, 26];

interface PanelDef {
  key: string;
  col: "L" | "R";
  top: number;
  height: number;
  padTop: number;
  padBottom: number;
  yMin: number;
  yMax: number;
  yTicks: number[];
  yLabels?: string[];
  obs: Pt[][];
  sim: Pt[][];
  showX: boolean;
  xPad: number;
}

const COLS = {
  L: { left: 0, width: 820, yWidth: 64, padRight: 5 },
  R: { left: 800, width: 823, yWidth: 65, padRight: 6 },
};

const panels: PanelDef[] = [
  { key: "se", col: "L", top: 0, height: 390, padTop: 63, padBottom: 11, yMin: 83, yMax: 106.1, yTicks: saintEloiTicks, obs: [saintEloiObsEarly, saintEloiObs], sim: [saintEloiSimEarly, saintEloiSim], showX: false, xPad: 0 },
  { key: "bh", col: "R", top: 0, height: 390, padTop: 63, padBottom: 14, yMin: 179.5, yMax: 206.7, yTicks: baracHTicks, obs: [baracHObs], sim: [baracHSim], showX: false, xPad: 0 },
  { key: "gc", col: "L", top: 385, height: 380, padTop: 38, padBottom: 13, yMin: 57.6, yMax: 74, yTicks: grosCheneTicks, yLabels: grosCheneTickLabels, obs: [grosCheneObs], sim: [grosCheneSim], showX: false, xPad: 0 },
  { key: "ss", col: "R", top: 385, height: 380, padTop: 57, padBottom: 6, yMin: 133.6, yMax: 157.5, yTicks: saintSamsonTicks, obs: [saintSamsonObs], sim: [saintSamsonSim], showX: false, xPad: 0 },
  { key: "sp", col: "L", top: 760, height: 428, padTop: 39, padBottom: 19, yMin: 37.3, yMax: 62.2, yTicks: scaouetTicks, obs: [scaouetObs], sim: [scaouetSim], showX: true, xPad: 21 },
  { key: "kd", col: "R", top: 760, height: 428, padTop: 48, padBottom: 9, yMin: 18.95, yMax: 26.35, yTicks: kerdillanTicks, obs: [kerdillanObs], sim: [kerdillanSim], showX: true, xPad: 11 },
];

function toData(segs: Pt[][]) {
  const out: { x: number; y: number | null }[] = [];
  segs.forEach((seg, i) => {
    if (i > 0) {
      const prev = segs[i - 1];
      out.push({ x: (prev[prev.length - 1][0] + seg[0][0]) / 2, y: null });
    }
    seg.forEach(([x, y]) => out.push({ x, y }));
  });
  return out;
}

function Panel({ p }: { p: PanelDef }) {
  const ref = useRef<HTMLCanvasElement | null>(null);
  const c = COLS[p.col];
  useEffect(() => {
    if (!ref.current) return;
    const chart = new Chart(ref.current, {
      type: "line",
      data: {
        datasets: [
          { label: "Observations", data: toData(p.obs), borderColor: OBS_COLOR, borderWidth: 1, pointRadius: 0, tension: 0, order: 2, spanGaps: false },
          { label: "Simulations", data: toData(p.sim), borderColor: SIM_COLOR, borderWidth: 1, pointRadius: 0, tension: 0, order: 1, spanGaps: false },
        ],
      },
      options: {
        animation: false,
        responsive: false,
        devicePixelRatio: 1,
        events: [],
        layout: { padding: { top: p.padTop, bottom: p.padBottom, left: 0, right: c.padRight } },
        plugins: { legend: { display: false }, tooltip: { enabled: false }, title: { display: false } },
        scales: {
          x: {
            type: "linear",
            min: X_MIN,
            max: X_MAX,
            display: p.showX,
            grid: { display: false, drawTicks: false },
            border: { display: false },
            ticks: { font: { family: FONT, size: 15 }, color: TICK_COLOR, padding: p.xPad, maxRotation: 0, autoSkip: false, callback: (v: any) => String(v) },
            afterBuildTicks: (s: any) => { s.ticks = yearTicks.map((v) => ({ value: v })); },
            afterFit: (s: any) => { s.height = p.showX ? 50 : 0; },
          },
          y: {
            type: "linear",
            min: p.yMin,
            max: p.yMax,
            grid: { display: false, drawTicks: false },
            border: { display: false },
            ticks: {
              font: { family: FONT, size: 15 },
              color: TICK_COLOR,
              padding: 2,
              autoSkip: false,
              callback: (v: any) => {
                const i = p.yTicks.indexOf(Number(v));
                if (i < 0) return "";
                return p.yLabels ? p.yLabels[i] : String(p.yTicks[i]);
              },
            },
            afterBuildTicks: (s: any) => { s.ticks = p.yTicks.map((v) => ({ value: v })); },
            afterFit: (s: any) => { s.width = c.yWidth; },
          },
        },
      } as any,
    });
    return () => chart.destroy();
  }, []);
  return (
    <canvas
      ref={ref}
      width={c.width}
      height={p.height}
      style={{ position: "absolute", left: c.left, top: p.top, width: c.width, height: p.height }}
    />
  );
}

const titles = [
  { text: "Saint-Eloi (Scorff)", x: 476, y: 31 },
  { text: "Barac\u2019h (Scorff)", x: 1226, y: 31 },
  { text: "Gros chêne (Blavet)", x: 482, y: 407 },
  { text: "Saint-Samson (Blavet)", x: 1245, y: 407 },
  { text: "Scaouet park (Blavet)", x: 484, y: 782 },
  { text: "Kerdillan (Blavet)", x: 1242, y: 782 },
];

const stats = [
  { obs: "94.1 (2.0)", sim: "97.4 (7.6)", x: 807, y1: 21, y2: 43, align: "right" },
  { obs: "197.2 (1.7)", sim: "193.5 (7.6)", x: 870, y1: 21, y2: 43, align: "left" },
  { obs: "64.4 (1.7)", sim: "62.9 (4.0)", x: 807, y1: 396, y2: 418, align: "right" },
  { obs: "151.7 (1.0)", sim: "144.5 (7.6)", x: 870, y1: 396, y2: 418, align: "left" },
  { obs: "57.6 (0.8)", sim: "49.2 (4.5)", x: 807, y1: 772, y2: 793, align: "right" },
  { obs: "23.4 (0.9)", sim: "23.9 (1.9)", x: 869, y1: 771, y2: 793, align: "left" },
];

function Txt({ text, x, y, size, color, weight, align }: { text: string; x: number; y: number; size: number; color: string; weight?: number; align: "left" | "center" | "right" }) {
  const tx = align === "center" ? "-50%" : align === "right" ? "-100%" : "0";
  return (
    <div
      style={{
        position: "absolute",
        left: x,
        top: y,
        transform: `translate(${tx}, -50%)`,
        fontFamily: FONT,
        fontSize: size,
        fontWeight: weight || 400,
        color,
        lineHeight: 1,
        whiteSpace: "nowrap",
      }}
    >
      {text}
    </div>
  );
}

export default function App() {
  return (
    <div style={{ position: "absolute", left: 0, top: 0, width: 1623, height: 1188, background: "#fff", overflow: "hidden" }}>
      {panels.map((p) => (
        <Panel key={p.key} p={p} />
      ))}
      {titles.map((t) => (
        <Txt key={t.text} text={t.text} x={t.x} y={t.y} size={31} color="#111" align="center" />
      ))}
      {stats.map((s) => (
        <React.Fragment key={s.obs}>
          <Txt text={s.obs} x={s.x} y={s.y1} size={20} color="#1a1a1a" align={s.align as any} />
          <Txt text={s.sim} x={s.x} y={s.y2} size={20} color="#ff1f1f" align={s.align as any} />
        </React.Fragment>
      ))}
      {/* legend */}
      <div style={{ position: "absolute", left: 1478, top: 22, width: 27, height: 1, background: OBS_COLOR }} />
      <div style={{ position: "absolute", left: 1478, top: 43, width: 27, height: 1, background: SIM_COLOR }} />
      <Txt text="Observations" x={1511} y={22} size={15} color="#404040" align="left" />
      <Txt text="Simulations" x={1511} y={43} size={15} color="#404040" align="left" />
      {/* axis titles */}
      <div
        style={{
          position: "absolute",
          left: 27,
          top: 583,
          transform: "translate(-50%, -50%) rotate(-90deg)",
          fontFamily: FONT,
          fontSize: 21,
          fontWeight: 700,
          color: "#111",
          lineHeight: 1,
          whiteSpace: "nowrap",
        }}
      >
        Water table elevation (m)
      </div>
      <Txt text="Years" x={835} y={1175} size={19} color="#111" weight={700} align="center" />
    </div>
  );
}
